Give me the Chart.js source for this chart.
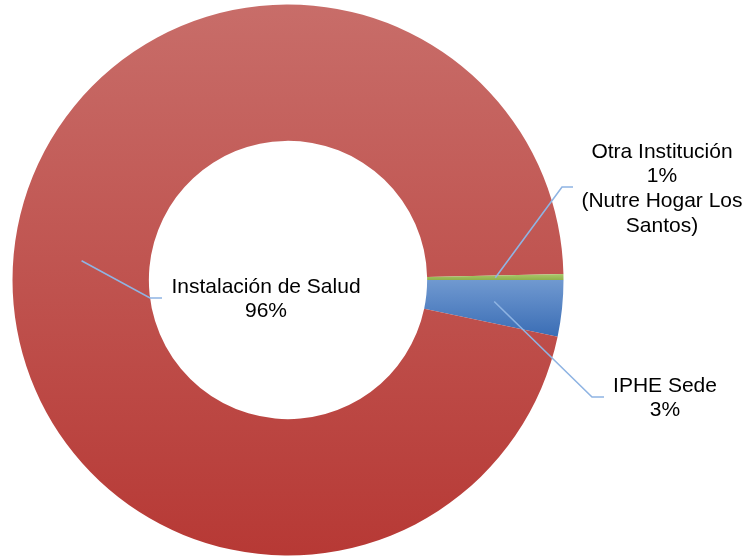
<!DOCTYPE html>
<html>
<head>
<meta charset="utf-8">
<script src="https://cdn.jsdelivr.net/npm/chart.js@4/dist/chart.umd.min.js"></script>
<style>
  html, body { margin: 0; padding: 0; background: #ffffff; }
  #wrap { width: 749px; height: 557px; position: relative; }
</style>
</head>
<body>
<div id="wrap"><canvas id="c" width="749" height="557"></canvas></div>
<script>
// ---- data ----
const categories = ["IPHE Sede", "Instalación de Salud", "Otra Institución"];
const values = [3.3, 96.35, 0.35];
const percentLabels = ["3%", "96%", "1%"];
const labelLines = [
  ["IPHE Sede", "3%"],
  ["Instalación de Salud", "96%"],
  ["Otra Institución", "1%", "(Nutre Hogar Los", "Santos)"]
];

// ---- styling ----
const gradStops = [
  ["#7099d0", "#3a6db5"],   // blue
  ["#c86d69", "#b73935"],   // red
  ["#abc86e", "#8fb14c"]    // green
];
const CUTOUT = 0.505;
const ROTATION = 90;
// label layout: elbow point, end of horizontal tick, text centre x, first line centre y
const labelLayout = [
  { elbow: [592, 397], tick: [604, 397], tx: 665, ty: 386 },
  { elbow: [150, 298], tick: [162, 298], tx: 266, ty: 287 },
  { elbow: [562, 187], tick: [573, 187], tx: 662, ty: 152 }
];
const lineHeight = 24.6;

// vertical extent of a slice, computed from the data and the chart area
function sliceYRange(chart, index) {
  const ca = chart.chartArea;
  const cy = (ca.top + ca.bottom) / 2;
  const outerR = Math.min(ca.right - ca.left, ca.bottom - ca.top) / 2;
  const innerR = outerR * CUTOUT;
  const total = values.reduce((a, b) => a + b, 0);
  let acc = 0;
  for (let k = 0; k < index; k++) acc += values[k];
  const base = (ROTATION - 90) * Math.PI / 180;
  const startAngle = base + acc / total * 2 * Math.PI;
  const endAngle = startAngle + values[index] / total * 2 * Math.PI;
  const pts = [startAngle, endAngle];
  for (let k = -2; k <= 6; k++) {
    const a = k * Math.PI / 2;
    if (a > startAngle && a < endAngle) pts.push(a);
  }
  const ys = [];
  pts.forEach(a => {
    ys.push(cy + Math.sin(a) * outerR);
    ys.push(cy + Math.sin(a) * innerR);
  });
  return [Math.min(...ys), Math.max(...ys)];
}

const leaderPlugin = {
  id: 'leaders',
  afterDatasetsDraw(chart) {
    const ctx = chart.ctx;
    const meta = chart.getDatasetMeta(0);
    ctx.save();
    meta.data.forEach((arc, i) => {
      const p = arc.getProps(['x','y','startAngle','endAngle','innerRadius','outerRadius'], true);
      const mid = (p.startAngle + p.endAngle) / 2;
      const r = (p.innerRadius + p.outerRadius) / 2;
      const sx = p.x + Math.cos(mid) * r;
      const sy = p.y + Math.sin(mid) * r;
      const L = labelLayout[i];
      ctx.strokeStyle = '#8fb4e3';
      ctx.lineWidth = 1.6;
      ctx.beginPath();
      ctx.moveTo(sx, sy);
      ctx.lineTo(L.elbow[0], L.elbow[1]);
      ctx.lineTo(L.tick[0], L.tick[1]);
      ctx.stroke();
      ctx.fillStyle = '#000000';
      ctx.font = '21px "Liberation Sans", Arial, sans-serif';
      ctx.textAlign = 'center';
      ctx.textBaseline = 'middle';
      labelLines[i].forEach((t, j) => {
        ctx.fillText(t, L.tx, L.ty + j * lineHeight);
      });
    });
    ctx.restore();
  }
};

new Chart(document.getElementById('c'), {
  type: 'doughnut',
  data: {
    labels: categories,
    datasets: [{
      data: values,
      backgroundColor: (context) => {
        const chart = context.chart;
        const i = context.dataIndex;
        if (!chart.chartArea) return gradStops[i][1];
        const [y0, y1] = sliceYRange(chart, i);
        const g = chart.ctx.createLinearGradient(0, y0, 0, Math.max(y1, y0 + 1));
        g.addColorStop(0, gradStops[i][0]);
        g.addColorStop(1, gradStops[i][1]);
        return g;
      },
      borderWidth: 0,
      hoverOffset: 0,
      offset: 0
    }]
  },
  options: {
    responsive: false,
    animation: false,
    rotation: ROTATION,
    cutout: (CUTOUT * 100) + '%',
    layout: { padding: { left: 12.5, right: 185.5, top: 4.5, bottom: 1.5 } },
    plugins: {
      legend: { display: false },
      tooltip: { enabled: false },
      title: { display: false }
    }
  },
  plugins: [leaderPlugin]
});
</script>
</body>
</html>
